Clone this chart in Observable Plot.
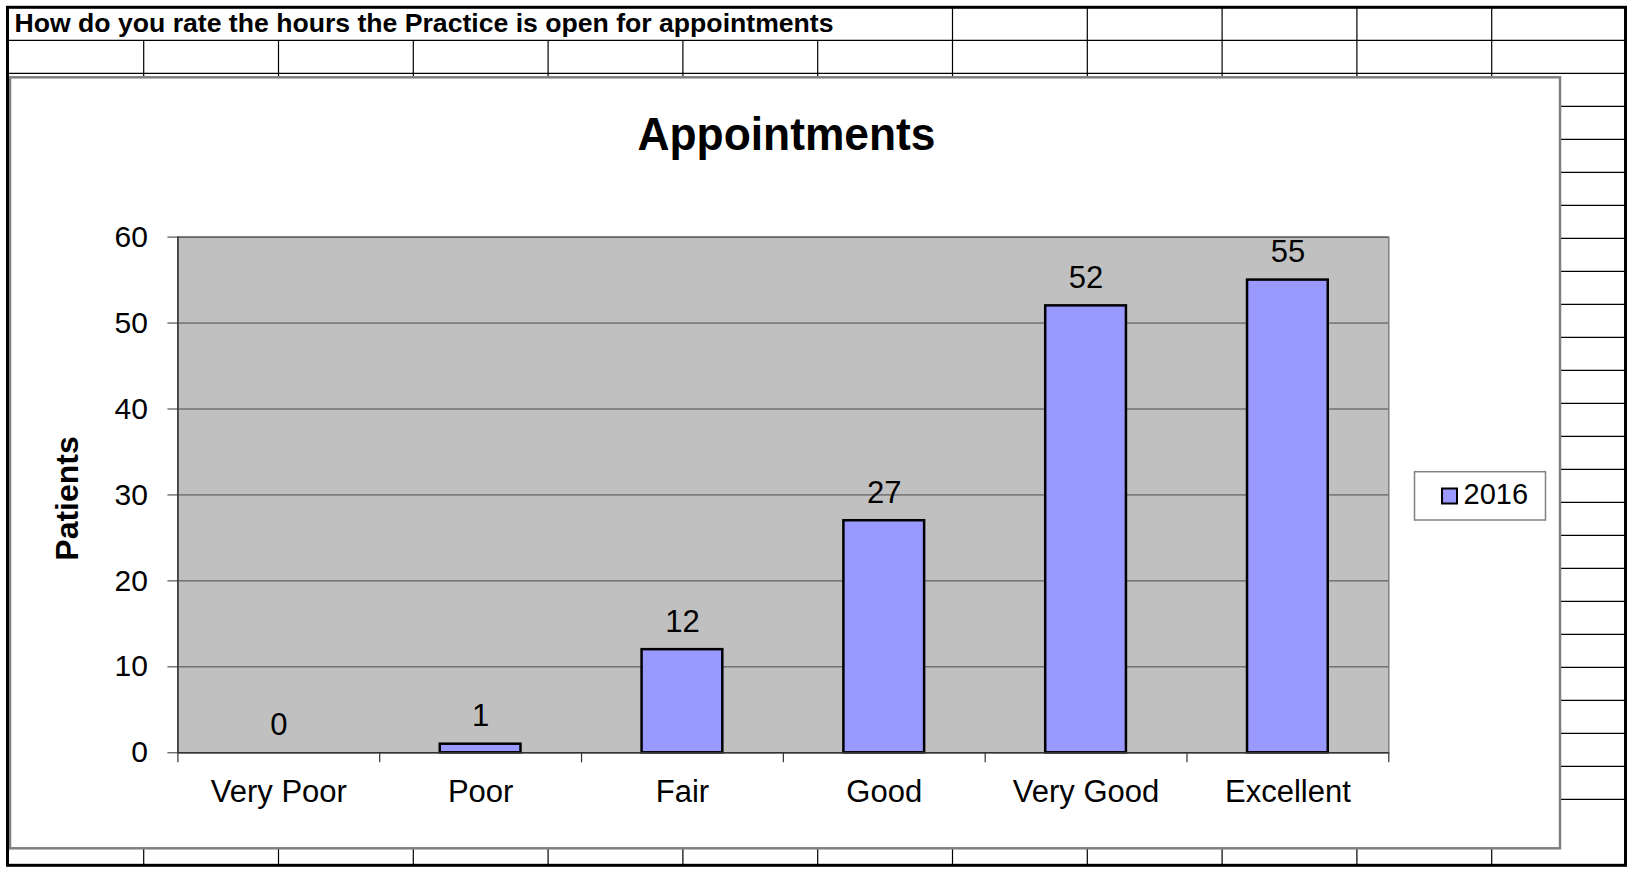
<!DOCTYPE html>
<html>
<head>
<meta charset="utf-8">
<script src="https://cdn.jsdelivr.net/npm/d3@7"></script>
<script src="https://cdn.jsdelivr.net/npm/@observablehq/plot@0.6"></script>
<style>
  html, body { margin: 0; padding: 0; background: #fff; overflow: hidden; }
  #wrap { position: relative; width: 1627px; height: 870px; }
  #bg, #chart { position: absolute; left: 0; top: 0; }
  text { font-family: "Liberation Sans", Arial, Helvetica, sans-serif; }
</style>
</head>
<body>
<div id="wrap">
  <svg id="bg" width="1627" height="870"></svg>
  <div id="chart"></div>
</div>
<script>
// ---- data ----
const categories = ["Very Poor", "Poor", "Fair", "Good", "Very Good", "Excellent"];
const values = [0, 1, 12, 27, 52, 55];
const yTicks = [0, 10, 20, 30, 40, 50, 60];
const seriesName = "2016";
const chartTitle = "Appointments";
const sheetHeader = "How do you rate the hours the Practice is open for appointments";
const yLabel = "Patients";

const data = categories.map((c, i) => ({category: c, value: values[i]}));

// ---- layout ----
const W = 1627, H = 870;
const plotL = 177.4, plotR = 1388.3, plotT = 236.6, plotB = 752.3;
const step = (plotR - plotL) / categories.length;
const font = "'Liberation Sans', Arial, Helvetica, sans-serif";

// ---- spreadsheet background ----
const bg = d3.select("#bg");
bg.append("rect").attr("width", W).attr("height", H).attr("fill", "#fff");
const rowTop = 7.3, rowH = 33, colL = 8.9, colW = 134.8;
for (let j = 1; j <= 24; j++) {
  const y = rowTop + rowH * j;
  bg.append("line").attr("x1", 8).attr("x2", 1625).attr("y1", y).attr("y2", y)
    .attr("stroke", "#000").attr("stroke-width", 1.2);
}
for (let k = 1; k <= 11; k++) {
  const x = colL + colW * k;
  bg.append("line").attr("x1", x).attr("x2", x)
    .attr("y1", k >= 7 ? rowTop : rowTop + rowH).attr("y2", 865)
    .attr("stroke", "#000").attr("stroke-width", 1.2);
}
// chart area
bg.append("rect").attr("x", 10).attr("y", 77.3).attr("width", 1550).attr("height", 771)
  .attr("fill", "#fff").attr("stroke", "#808080").attr("stroke-width", 2.5);
// outer border
bg.append("rect").attr("x", 7.5).attr("y", 7.3).attr("width", 1618).attr("height", 858)
  .attr("fill", "none").attr("stroke", "#000").attr("stroke-width", 3);
// header cell text
bg.append("text").attr("x", 14.5).attr("y", 32).attr("font-size", 25).attr("font-weight", "bold")
  .attr("textLength", 819).attr("lengthAdjust", "spacingAndGlyphs").text(sheetHeader);
// chart title
bg.append("text").attr("x", 786.5).attr("y", 150).attr("text-anchor", "middle")
  .attr("font-size", 47).attr("font-weight", "bold")
  .attr("textLength", 298).attr("lengthAdjust", "spacingAndGlyphs").text(chartTitle);
// legend
bg.append("rect").attr("x", 1414.5).attr("y", 471.7).attr("width", 131).attr("height", 48.3)
  .attr("fill", "#fff").attr("stroke", "#808080").attr("stroke-width", 1.5);
bg.append("rect").attr("x", 1442).attr("y", 488.5).attr("width", 15).attr("height", 15)
  .attr("fill", "#9999ff").attr("stroke", "#000").attr("stroke-width", 2);
bg.append("text").attr("x", 1463.5).attr("y", 504).attr("font-size", 29).text(seriesName);

// ---- chart ----
const chart = Plot.plot({
  width: W,
  height: H,
  marginLeft: plotL,
  marginRight: W - plotR,
  marginTop: plotT,
  marginBottom: H - plotB,
  style: {fontFamily: font, background: "transparent", overflow: "visible"},
  x: {type: "band", domain: categories, paddingInner: 0.6, paddingOuter: 0.3, round: false, label: null},
  y: {domain: [0, 60], label: null},
  marks: [
    Plot.frame({fill: "#c0c0c0", stroke: "#808080", strokeWidth: 1.5}),
    Plot.gridY(yTicks.filter(t => t > 0), {stroke: "#4a4a4a", strokeOpacity: 1, strokeWidth: 1}),
    Plot.barY(data, {x: "category", y: "value", fill: "#9999ff", stroke: "#000", strokeWidth: 2.5,
      filter: d => d.value > 0}),
    Plot.ruleX([categories[0]], {x: d => d, dx: -step / 2, stroke: "#333", strokeWidth: 1.5}),
    Plot.ruleY([0], {stroke: "#333", strokeWidth: 1.5}),
    Plot.ruleX(categories, {x: d => d, y1: 0, y2: 0, insetBottom: -10, dx: -step / 2, stroke: "#333", strokeWidth: 1.2}),
    Plot.ruleX([categories[categories.length - 1]], {x: d => d, y1: 0, y2: 0, insetBottom: -10, dx: step / 2, stroke: "#333", strokeWidth: 1.2}),
    Plot.axisY(yTicks, {tickSize: 10, tickPadding: 20, fontSize: 30, stroke: "#333", label: null}),
    Plot.axisX({tickSize: 0, tickPadding: 27, fontSize: 31, label: null}),
    Plot.text(data, {x: "category", y: "value", text: d => String(d.value), dy: -28, fontSize: 31, fill: "#000"}),
    Plot.text([yLabel], {frameAnchor: "left", text: d => d, rotate: -90, textAnchor: "middle",
      dx: -110.6, dy: 3.5, fontSize: 32, fontWeight: "bold", fill: "#000"})
  ]
});
document.getElementById("chart").appendChild(chart);
</script>
</body>
</html>
